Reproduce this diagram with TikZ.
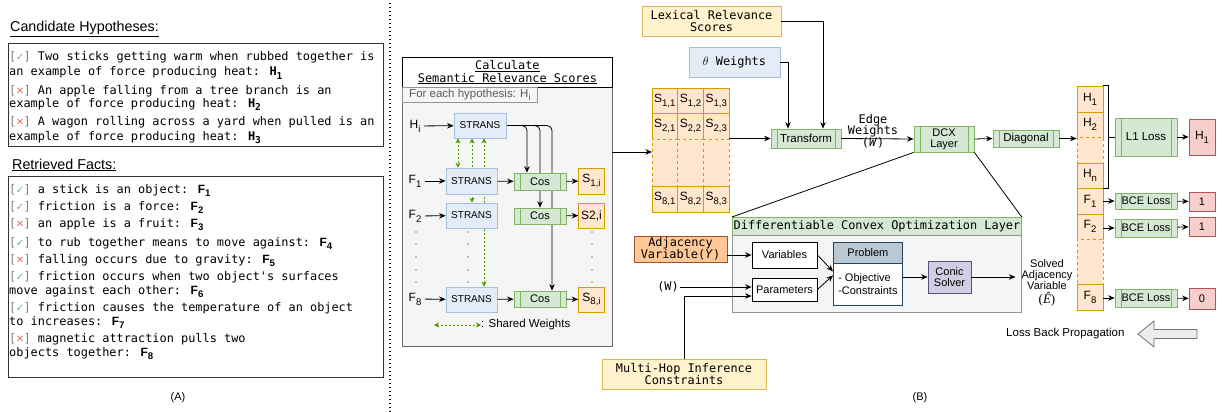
\documentclass[tikz,border=0pt]{standalone}
\usepackage{fontspec}
\setmainfont{Liberation Sans}
\newfontfamily\mono{DejaVu Sans Mono}
\newfontfamily\sym{DejaVu Sans}
\newfontfamily\serf{Liberation Serif}
\usetikzlibrary{arrows.meta,calc}
\pgfdeclarelayer{back}\pgfdeclarelayer{bg}\pgfsetlayers{back,bg,main}
\definecolor{orF}{HTML}{FFE6CC}\definecolor{orD}{HTML}{D79B00}
\definecolor{yeF}{HTML}{FFF2CC}\definecolor{yeD}{HTML}{D6B656}
\definecolor{blF}{HTML}{E4ECF8}\definecolor{blD}{HTML}{A6BFE3}
\definecolor{grF}{HTML}{D5E8D4}\definecolor{grD}{HTML}{82B366}
\definecolor{reF}{HTML}{F8CECC}\definecolor{reD}{HTML}{B85450}
\definecolor{puF}{HTML}{D0CEE2}\definecolor{puD}{HTML}{56517E}
\definecolor{prF}{HTML}{BAC8D3}\definecolor{prD}{HTML}{23445D}
\definecolor{adF}{HTML}{FFC896}\definecolor{adD}{HTML}{A0522D}
\definecolor{bgF}{HTML}{F5F5F5}\definecolor{bgD}{HTML}{666666}
\definecolor{ckC}{HTML}{67AB9F}\definecolor{xC}{HTML}{EA6B66}
\definecolor{swC}{HTML}{4D9900}
\newcommand\mf{\mono\fontsize{11.9}{14.5}\selectfont}
\newcommand\sfn[1]{\rmfamily\fontsize{#1}{13}\selectfont}
\newcommand\sub[1]{\raisebox{-0.32em}{\scalebox{0.8}{#1}}}
\newcommand\ckm{{\color{gray}[}\makebox[7.17pt]{\sym\fontsize{10}{12}\selectfont\color{ckC}✓}{\color{gray}]}}
\newcommand\crm{{\color{gray}[}\makebox[7.17pt]{\sym\fontsize{10}{12}\selectfont\color{xC}✕}{\color{gray}]}}
\newcommand\lab[2]{{\rmfamily\bfseries\fontsize{12}{14}\selectfont #1\sub{#2}}}
\newcommand\hlab[1]{{\bfseries H\sub{#1}}}
\tikzset{
  arr/.style={-{Stealth[length=6.5pt,width=5.5pt]}, line width=0.8pt},
  txt/.style={anchor=base west, inner sep=0pt, font=\mf},
  wh/.style 2 args={minimum width=#1, minimum height=#2, inner sep=0pt, anchor=center},
  orange/.style={draw=orD, fill=orF, line width=0.8pt},
  yellow/.style={draw=yeD, fill=yeF, line width=0.8pt},
  blue/.style={draw=blD, fill=blF, line width=0.8pt},
  red/.style={draw=reD, fill=reF, line width=0.8pt},
  proc/.style={draw=grD, fill=grF, line width=0.8pt,
    path picture={\draw[grD, line width=0.8pt] ([xshift=6pt]path picture bounding box.north west) -- ([xshift=6pt]path picture bounding box.south west);
      \draw[grD, line width=0.8pt] ([xshift=-6pt]path picture bounding box.north east) -- ([xshift=-6pt]path picture bounding box.south east);}},
  sw/.style={{Stealth[length=5pt,width=5pt]}-{Stealth[length=5pt,width=5pt]}, swC, line width=0.9pt, dash pattern=on 2pt off 2pt},
  cell/.style={orange, minimum width=25.67, inner sep=0pt, font=\sfn{12}},
  celld/.style={draw=orD, fill=orF, dashed, line width=0.8pt, minimum width=25.67, inner sep=0pt},
  whitebox/.style={draw=black, fill=white, line width=0.8pt}
}
\begin{document}
\begin{tikzpicture}[x=1pt,y=-1pt]
\useasboundingbox (0,0) rectangle (1226,412);

% ---------------- Panel A ----------------
\node[anchor=base west, inner sep=0pt, font=\sfn{14.3}] (hh) at (10,32) {\underline{Candidate Hypotheses:}};
\node[draw=black!80, line width=1pt, anchor=north west, minimum width=375, minimum height=103] (hyp) at (8,43) {};
\node[txt] (h1a) at (9,61) {\ckm{} Two sticks getting warm when rubbed together is};
\node[txt] (h1b) at (9,76) {an example of force producing heat: \hlab{1}};
\node[txt] (h2a) at (9,94) {\crm{} An apple falling from a tree branch is an};
\node[txt] (h2b) at (9,107) {example of force producing heat: \hlab{2}};
\node[txt] (h3a) at (9,125) {\crm{} A wagon rolling across a yard when pulled is an};
\node[txt] (h3b) at (9,140) {example of force producing heat: \hlab{3}};

\node[anchor=base west, inner sep=0pt, font=\sfn{14.3}] (fh) at (12,169) {\underline{Retrieved Facts:}};
\node[draw=black!80, line width=1pt, anchor=north west, minimum width=375, minimum height=201] (facts) at (8,176) {};
\node[txt] (f1) at (9,193) {\ckm{} a stick is an object: \lab{F}{1}};
\node[txt] (f2) at (9,210) {\ckm{} friction is a force: \lab{F}{2}};
\node[txt] (f3) at (9,227) {\crm{} an apple is a fruit: \lab{F}{3}};
\node[txt] (f4) at (9,246) {\ckm{} to rub together means to move against: \lab{F}{4}};
\node[txt] (f5) at (9,263) {\crm{} falling occurs due to gravity: \lab{F}{5}};
\node[txt] (f6a) at (9,280) {\ckm{} friction occurs when two object's surfaces};
\node[txt] (f6b) at (9,294) {move against each other: \lab{F}{6}};
\node[txt] (f7a) at (9,311) {\ckm{} friction causes the temperature of an object};
\node[txt] (f7b) at (9,325) {to increases: \lab{F}{7}};
\node[txt] (f8a) at (9,342) {\crm{} magnetic attraction pulls two};
\node[txt] (f8b) at (9,356) {objects together: \lab{F}{8}};
\node[font=\sfn{11}] (A) at (178,398) {(A)};

\draw[line width=1.3pt, dash pattern=on 1.3pt off 2.7pt] (390,3) -- (390,412);

% ---------------- Panel B: semantic scores ----------------
\node[draw=black, fill=white, line width=0.8pt, anchor=north west, minimum width=210, minimum height=30, inner sep=0pt, align=center, font=\mf] (calc) at (402,57)
  {\underline{Calculate}\\[-2pt]\underline{Semantic Relevance Scores}};
\begin{pgfonlayer}{back}
\node[draw=bgD, fill=bgF, line width=0.8pt, anchor=north west, minimum width=210, minimum height=259] (sem) at (402,87) {};
\end{pgfonlayer}
\node[draw=bgD!70, fill=bgF, line width=0.8pt, anchor=north west, minimum width=135, minimum height=15, inner sep=0pt, font=\sfn{11.5}, text=black!65] (each) at (402,87) {For each hypothesis: H\sub{i}};

\node[font=\sfn{12}] (hil) at (415,126) {H\sub{i}};
\node[blue, wh={52}{25}, font=\sfn{10}] (strH) at (480,125.5) {STRANS};
\node[font=\sfn{12}] (f1l) at (415,181) {F\sub{1}};
\node[blue, wh={51}{26}, font=\sfn{10}] (str1) at (471.5,181) {STRANS};
\node[proc, wh={52}{17}, font=\sfn{11}] (cos1) at (540,181.5) {Cos};
\node[cell, minimum height=26] (s1) at (591.5,181) {S\sub{1,i}};
\node[font=\sfn{12}] (f2l) at (415,216) {F\sub{2}};
\node[blue, wh={51}{25}, font=\sfn{10}] (str2) at (471.5,215.5) {STRANS};
\node[proc, wh={52}{16}, font=\sfn{11}] (cos2) at (540,216) {Cos};
\node[cell, minimum height=25] (s2) at (591.5,215.5) {S2,i};
\node[font=\sfn{12}] (f8l) at (415,299) {F\sub{8}};
\node[blue, wh={51}{25}, font=\sfn{10}] (str8) at (471.5,299.5) {STRANS};
\node[proc, wh={52}{16}, font=\sfn{11}] (cos8) at (540,299) {Cos};
\node[cell, minimum height=25] (s8) at (591.5,299.5) {S\sub{8,i}};

\foreach \x in {416,468,592} \foreach \y in {232,244,257,270,282} \fill (\x,\y) circle (0.7);

\draw[arr] (hil) -- (strH);
\draw[arr] (f1l) -- (str1);
\draw[arr] (f2l) -- (str2);
\draw[arr] (f8l) -- (str8);
\draw[arr] (str1) -- (cos1);
\draw[arr] (str8) -- (cos8);
\draw[arr] (cos1) -- (s1);
\draw[arr] (cos2) -- (s2);
\draw[arr] (cos8) -- (s8);
\begin{pgfonlayer}{bg}
\draw[arr, rounded corners=5] (strH.east) -| ([xshift=-13pt]cos1.north);
\draw[arr, rounded corners=5] (strH.east) -| (cos2.north);
\draw[arr, rounded corners=5] (strH.east) -| ([xshift=12pt]cos8.north);
\draw[sw] ([xshift=-22pt]strH.south) -- ([xshift=-22pt]strH.south |- str1.north);
\draw[sw] ([xshift=-8pt]strH.south) -- ([xshift=-8pt]strH.south |- str2.north);
\draw[sw] ([xshift=4pt]strH.south) -- ([xshift=4pt]strH.south |- str8.north);
\end{pgfonlayer}
\coordinate (swa) at (434,325);
\coordinate (swb) at (481,325);
\draw[sw] (swa) -- (swb);
\node[anchor=west, inner sep=0pt, font=\sfn{11.5}] (swl) at (swb) {: Shared Weights};

% ---------------- matrix ----------------
\node[inner sep=0pt, minimum width=77, minimum height=124, anchor=north west] (mat) at (652,88) {};
\foreach \c/\x in {1/664.8,2/690.5,3/716.2}{
  \node[cell, minimum height=25.5] (m1\c) at (\x,100.75) {S\sub{1,\c}};
  \node[cell, minimum height=25.5] (m2\c) at (\x,126.25) {S\sub{2,\c}};
  \node[celld, minimum height=47] (md\c) at (\x,162.5) {};
  \node[cell, minimum height=26] (m8\c) at (\x,199) {S\sub{8,\c}};
}
\coordinate (semout) at (612,152);
\draw[arr] (semout) -- (semout -| mat.west);

\node[yellow, wh={139}{30}, align=center, font=\mf] (lex) at (711.5,21) {Lexical Relevance\\[-3pt]Scores};
\node[blue, wh={91}{30}, font=\mf] (theta) at (734.5,62) {$\theta$ Weights};
\node[proc, wh={70}{19}, font=\sfn{11.5}] (tr) at (806,138.5) {Transform};
\draw[arr] (mat.east |- tr.west) -- (tr.west);
\draw[arr] (lex.east) -| ([xshift=17pt]tr.north);
\draw[arr] (theta.east) -| ([xshift=-18pt]tr.north);
\node[align=center, font=\mf, inner sep=0pt] (ew) at (873,131) {Edge\\[-3pt]Weights\\[-3pt](\textit{W})};
\node[proc, wh={60}{26}, align=center, font=\sfn{11}] (dcx) at (944,139) {DCX\\[-2pt]Layer};
\draw[arr] (tr.east) -- (dcx.west);
\node[proc, wh={66}{17}, font=\sfn{11.5}] (diag) at (1026,138.5) {Diagonal};
\draw[arr] (dcx.east) -- (diag.west);

% ---------------- right column ----------------
\node[cell, minimum width=26, minimum height=26] (ch1) at (1090,99) {H\sub{1}};
\node[cell, minimum width=26, minimum height=25] (ch2) at (1090,124.5) {H\sub{2}};
\node[celld, minimum width=26, minimum height=26] (cd1) at (1090,150) {};
\node[cell, minimum width=26, minimum height=25] (chn) at (1090,175.5) {H\sub{n}};
\node[cell, minimum width=26, minimum height=26] (cf1) at (1090,201) {F\sub{1}};
\node[cell, minimum width=26, minimum height=25] (cf2) at (1090,226.5) {F\sub{2}};
\node[celld, minimum width=26, minimum height=45] (cd2) at (1090,261.5) {};
\node[cell, minimum width=26, minimum height=26] (cf8) at (1090,297) {F\sub{8}};
\draw[arr] (diag.east) -- (diag.east -| cd1.west);
\draw[line width=0.9pt] (ch1.north east) -- ++(5,0) coordinate (bt) -- (bt |- chn.south east) -- (chn.south east);
\coordinate (bm) at ($(bt)!0.5!(bt |- chn.south east)$);

\node[proc, wh={62}{38}, font=\sfn{11.5}] (l1) at (1146,137) {L1 Loss};
\node[red, wh={26}{36}, font=\sfn{12}] (rh1) at (1202,137) {H\sub{1}};
\draw[line width=0.9pt] (bm) -- (bm -| l1.west);
\draw[arr] (l1) -- (rh1);
\node[proc, wh={62}{16}, font=\sfn{11}] (b1) at (1146,201) {BCE Loss};
\node[proc, wh={62}{18}, font=\sfn{11}] (b2) at (1146,228) {BCE Loss};
\node[proc, wh={62}{18}, font=\sfn{11}] (b8) at (1146,298) {BCE Loss};
\node[red, wh={26}{19}, font=\sfn{11}] (r1) at (1202,201.5) {1};
\node[red, wh={26}{19}, font=\sfn{11}] (r2) at (1202,226.5) {1};
\node[red, wh={26}{21}, font=\sfn{11}] (r8) at (1202,298.5) {0};
\draw[arr] (cf1.east) -- (cf1.east -| b1.west);
\draw[arr] (cf2.east |- b2.west) -- (b2.west);
\draw[arr] (cf8.east |- b8.west) -- (b8.west);
\draw[arr] (b1) -- (r1);
\draw[arr] (b2) -- (r2);
\draw[arr] (b8) -- (r8);

% ---------------- DCO layer ----------------
\node[draw=grD, fill=grF, line width=0.8pt, anchor=north west, minimum width=289, minimum height=18, inner sep=0pt] (dcot) at (732,217) {};
\node[anchor=west, inner sep=0pt, font=\mf] (dcotl) at (733.5,226) {Differentiable Convex Optimization Layer};
\node[draw=bgD!70, fill=bgF, line width=0.8pt, anchor=north west, minimum width=289, minimum height=77] (dcob) at (732,235) {};
\draw[line width=0.8pt] (dcx.south west) -- (dcot.north west);
\draw[line width=0.8pt] (dcx.south east) -- (dcot.north east);

\node[draw=adD, fill=adF, line width=0.8pt, wh={93}{26}, align=center, font=\mf] (adj) at (680.5,249) {Adjacency\\[-3pt]Variable(\textit{Y})};
\node[whitebox, wh={65}{26}, font=\sfn{11}] (var) at (784.5,255) {Variables};
\node[whitebox, wh={65}{23}, font=\sfn{11}] (par) at (784.5,289.5) {Parameters};
\node[font=\mf, inner sep=1pt] (wl) at (668,287) {(W)};
\node[yellow, wh={164}{30}, align=center, font=\mf] (mh) at (684,374) {Multi-Hop Inference\\[-3pt]Constraints};
\draw[arr] (adj.east |- var.west) -- (var.west);
\draw[arr] (wl.east) -- (wl.east -| par.west);
\draw[arr] (mh.north) |- ([yshift=-6.5pt]par.west);

\node[draw=prD, fill=prF, line width=0.8pt, anchor=north west, minimum width=69, minimum height=21, inner sep=0pt, font=\sfn{11}] (probh) at (833,242) {Problem};
\node[draw=prD, fill=white, line width=0.8pt, anchor=north west, minimum width=69, minimum height=42, inner sep=0pt, align=left, font=\sfn{11}] (probb) at (833,263) {- Objective\\-Constraints};
\draw[arr] (var.east) -- ([yshift=13pt]probb.west);
\draw[arr] (par.east) -- ([yshift=9pt]probb.west);
\node[draw=puD, fill=puF, line width=0.8pt, wh={43}{32}, align=center, font=\sfn{11}] (conic) at (949.5,277) {Conic\\[-2pt]Solver};
\draw[arr] (conic.west -| probb.east) -- (conic.west);
\node[align=center, font=\sfn{11}, inner sep=0pt] (solved) at (1047,283) {Solved\\[-2pt]Adjacency\\[-2pt]Variable\\[1pt]{\serf\fontsize{13}{14}\selectfont(\textit{Ê})}};
\draw[arr] (conic.east) -- ([xshift=-6pt]solved.west |- conic.east);

% ---------------- back propagation ----------------
\node[anchor=west, inner sep=0pt, font=\sfn{11.5}] (lbp) at (1006,334) {Loss Back Propagation};
\draw[draw=black!55, fill=black!7, line width=0.8pt] (1138,334) -- (1154,321) -- (1154,329.5) -- (1197,329.5) -- (1197,338.5) -- (1154,338.5) -- (1154,347) -- cycle;
\node[font=\sfn{11}] (B) at (920,398) {(B)};
\end{tikzpicture}
\end{document}
